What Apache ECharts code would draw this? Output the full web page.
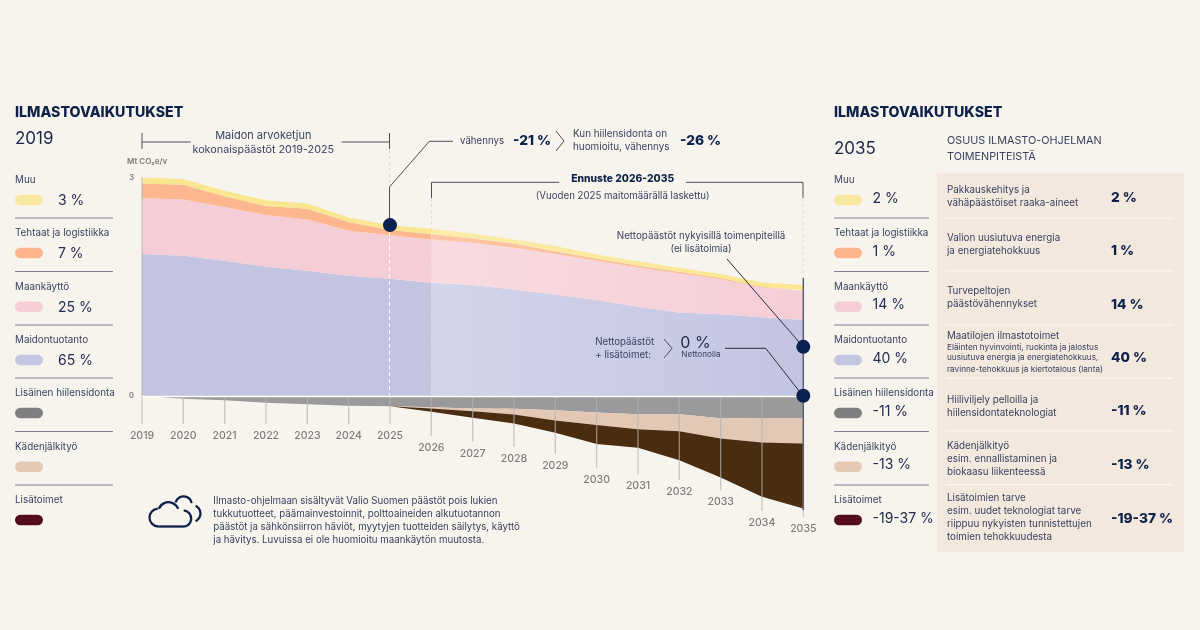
<!DOCTYPE html>
<html><head><meta charset="utf-8">
<style>html,body{margin:0;padding:0;background:#f7f4ee}#c{width:1200px;height:630px}</style>
<script src="https://cdn.jsdelivr.net/npm/echarts@6/dist/echarts.min.js"></script>
</head><body><div id="c"></div>
<script>
const years=['2019','2020','2021','2022','2023','2024','2025','2026','2027','2028','2029','2030','2031','2032','2033','2034','2035'];
const maidontuotanto=[1.947,1.924,1.855,1.773,1.718,1.649,1.608,1.553,1.521,1.462,1.393,1.315,1.223,1.146,1.119,1.081,1.040];
const maankaytto=[.770,.775,.738,.710,.706,.618,.600,.596,.581,.572,.554,.540,.541,.536,.481,.408,.403];
const tehtaat=[.202,.201,.151,.124,.146,.120,.069,.073,.060,.060,.041,.033,.027,.022,.018,.008,.010];
const muu=[.082,.078,.073,.082,.074,.065,.069,.073,.069,.055,.069,.055,.059,.055,.055,.060,.069];
const hiilensidonta=[0,-.041,-.060,-.096,-.115,-.137,-.142,-.156,-.174,-.179,-.197,-.229,-.252,-.252,-.307,-.311,-.311];
const kadenjalki=[0,0,0,0,0,0,0,-.018,-.037,-.078,-.142,-.174,-.206,-.234,-.279,-.330,-.344];
const lisatoimet=[0,0,0,0,0,0,0,-.046,-.092,-.124,-.169,-.261,-.256,-.398,-.536,-.747,-.893];
const tickTop=[3,0,0,0,0,0,0,0,0,0,0,0,0,0,0,0,0];
const tickEnd=[-.389,-.389,-.389,-.389,-.389,-.389,-.389,-.554,-.632,-.705,-.801,-.993,-1.076,-1.158,-1.296,-1.584,-1.663];
const dots=[['2025',2.346],['2035',.673],['2035',0]];
const legendNames=['Muu','Tehtaat ja logistiikka','Maankäyttö','Maidontuotanto','Lisäinen hiilensidonta','Kädenjälkityö','Lisätoimet'];
const legendColors=['#f8e79e','#ffb48e','#f6cdd6','#c5c6e2','#7f7f7f','#e3c8b3','#530c1e'];
const values2019=['3 %','7 %','25 %','65 %','','',''];
const values2035=['2 %','1 %','14 %','40 %','-11 %','-13 %','-19-37 %'];

const NAVY='#0d2149', INK='#3a4260';
const FONT='Inter';
const g=[];
function T(x,y,text,size,o){o=o||{};g.push({type:'text',z:100,x:x,y:y,style:{text:text,font:(o.w||400)+' '+size+'px '+FONT,fill:o.c||INK,textAlign:o.a||'left',textVerticalAlign:'middle'}});}
function L(pts,o){o=o||{};g.push({type:'polyline',z:o.z||100,shape:{points:pts},style:{stroke:o.c||'#4a4e60',lineWidth:o.lw||1,fill:null,lineDash:o.dash||null}});}
function R(x,y,w,h,c,r){g.push({type:'rect',z:r===undefined?1:100,shape:{x:x,y:y,width:w,height:h,r:r||0},style:{fill:c}});}
function A(cx,cy,r,a0,a1){g.push({type:'arc',z:100,shape:{cx:cx,cy:cy,r:r,startAngle:a0*Math.PI/180,endAngle:a1*Math.PI/180,clockwise:true},style:{fill:null,stroke:NAVY,lineWidth:2.3}});}

R(937,173.3,247,379,'#f2e8de');

const rowLabelY=[180.5,233.5,287,340.5,393.5,447,500.5];
const rowSwatchY=[200,253,306.7,360,413,466.7,520];
const rowSepY=[218,271.5,325,378,431.5,485];
function legendCol(x,vals,vx,sepW,dv){
  legendNames.forEach((n,i)=>{
    T(x,rowLabelY[i],n,9.85);
    R(x,rowSwatchY[i]-5.3,28,10.6,legendColors[i],5.3);
    if(vals[i])T(vx,rowSwatchY[i]+dv,vals[i],14,{c:'#232c50'});
    if(i<6)L([[x,rowSepY[i]],[x+sepW,rowSepY[i]]],{c:'#7d8296',lw:1});
  });
}
T(15,112.5,'ILMASTOVAIKUTUKSET',14.2,{w:800,c:NAVY});
T(15,138.5,'2019',17,{c:'#1d2748'});
legendCol(15,values2019,58,98,1);
T(834,112.5,'ILMASTOVAIKUTUKSET',14.2,{w:800,c:NAVY});
T(834,148.5,'2035',17,{c:'#1d2748'});
legendCol(834,values2035,872.5,95,-1.5);

T(947,141,'OSUUS ILMASTO-OHJELMAN',10.8);
T(947,156.3,'TOIMENPITEISTÄ',10.8);
[218,271,325,378.3,431,484.7].forEach(y=>L([[946,y],[1173,y]],{c:'#fbf8f3',lw:1.2}));
const panelRows=[
 [['Pakkauskehitys ja',189.7],['vähäpäästöiset raaka-aineet',203],'2 %',197.7],
 [['Valion uusiutuva energia',237.7],['ja energiatehokkuus',250.7],'1 %',251],
 [['Turvepeltojen',290.7],['päästövähennykset',303.7],'14 %',304.7],
 [['Hiiliviljely pelloilla ja',400.3],['hiilensidontateknologiat',413.3],'-11 %',410.7],
 [['Kädenjälkityö',445.7],['esim. ennallistaminen ja',458.7],['biokaasu liikenteessä',471.7],'-13 %',464.7],
 [['Lisätoimien tarve',497.7],['esim. uudet teknologiat tarve',510.7],['riippuu nykyisten tunnistettujen',523.7],['toimien tehokkuudesta',536.7],'-19-37 %',518.7]
];
panelRows.forEach(r=>{
  const y=r[r.length-1],p=r[r.length-2];
  r.slice(0,-2).forEach(l=>T(947,l[1],l[0],9.8));
  T(1111,y,p,13.7,{w:800,c:NAVY});
});
T(947,335.7,'Maatilojen ilmastotoimet',9.8);
T(947,347.7,'Eläinten hyvinvointi, ruokinta ja jalostus',8.2);
T(947,357.7,'uusiutuva energia ja energiatehokkuus,',8.2);
T(947,370,'ravinne-tehokkuus ja kiertotalous (lanta)',8.2);
T(1111,357.7,'40 %',13.7,{w:800,c:NAVY});

T(127,162,'Mt CO₂e/v',8,{w:600,c:'#7a7a7a'});
T(263.3,135.3,'Maidon arvoketjun',11,{a:'center'});
T(263.3,149.3,'kokonaispäästöt 2019-2025',10.8,{a:'center'});
L([[142,133],[142,149]]);L([[142,142],[190.7,142]]);L([[341.7,142],[389.5,142]]);L([[389.5,133],[389.5,149]]);
L([[389.5,150],[389.5,187]],{c:'#e8d9c8',dash:[3,3],z:90});
L([[389.5,232],[389.5,395]],{c:'#ffffff',dash:[4,3],z:90});
L([[389.5,225],[389.5,187],[429.3,141.3],[453,141.3]]);
T(460,141,'vähennys',9.7);
T(513,141,'-21 %',13.7,{w:800,c:NAVY});
L([[556,131],[564,141],[556,151]]);
T(573,134,'Kun hiilensidonta on',9.9);
T(573,147,'huomioitu, vähennys',9.9);
T(680,141,'-26 %',13.7,{w:800,c:NAVY});
L([[431.5,198],[431.5,182.3],[559.3,182.3]]);L([[686,182.3],[803,182.3],[803,198]]);
L([[431.5,198],[431.5,395]],{c:'#e8d9c8',dash:[3,3],z:90});
L([[803,198],[803,278]],{c:'#e8d9c8',dash:[3,3],z:90});
L([[803.3,278],[803.3,510]],{c:'#5a5e72',lw:1.5});
T(622.7,178.7,'Ennuste 2026-2035',10.3,{w:800,c:NAVY,a:'center'});
T(622.7,195.7,'(Vuoden 2025 maitomäärällä laskettu)',9.7,{a:'center'});
T(701,236,'Nettopäästöt nykyisillä toimenpiteillä',9.8,{a:'center'});
T(701,249,'(ei lisätoimia)',9.8,{a:'center'});
L([[727,259],[803,346.7]],{c:'#2a2d3a'});
T(595.3,342,'Nettopäästöt',9.7);
T(595.3,355,'+ lisätoimet:',9.7);
L([[664,339],[672,348.5],[664,358]]);
T(680.3,343,'0 %',16,{c:'#232c50'});
T(681.3,355,'Nettonolla',8.2);
L([[725,348.3],[765.7,348.3],[803,396]],{c:'#2a2d3a'});

A(158.5,517.5,9,90,265);A(168.5,512.5,10.3,200,340);A(183,518.5,8.2,-85,90);
L([[158.5,526.5],[183,526.5]],{c:NAVY,lw:2.3});
A(183.5,504.5,8.2,195,350);A(192,513.5,8.5,-65,65);

['Ilmasto-ohjelmaan sisältyvät Valio Suomen päästöt pois lukien',
 'tukkutuotteet, päämainvestoinnit, polttoaineiden alkutuotannon',
 'päästöt ja sähkönsiirron häviöt, myytyjen tuotteiden säilytys, käyttö',
 'ja hävitys. Luvuissa ei ole huomioitu maankäytön muutosta.'].forEach((s,i)=>T(213.3,501+i*13,s,9.7));

function band(name,data,col,light,stack){
  const split=0.437;
  return {name:name,type:'line',stack:stack,data:data,symbol:'none',silent:true,lineStyle:{width:0},
    areaStyle:{opacity:1,color:light?{type:'linear',x:0,y:0,x2:1,y2:0,colorStops:[{offset:0,color:col},{offset:split,color:col},{offset:split,color:light},{offset:1,color:col}]}:col}};
}
const series=[
 band('Maidontuotanto',maidontuotanto,'#c3c4e1','#d3d5ea','pos'),
 band('Maankäyttö',maankaytto,'#f5cdd6','#f9dbe1','pos'),
 band('Tehtaat ja logistiikka',tehtaat,'#fdb78f','#fdc6a6','pos'),
 band('Muu',muu,'#f9e690','#fbeca8','pos'),
 band('Lisäinen hiilensidonta',hiilensidonta,'#9a9a9c',null,'neg'),
 band('Kädenjälkityö',kadenjalki,'#e3c9b5',null,'neg'),
 band('Lisätoimet',lisatoimet,'#4a2c10',null,'neg'),
 {type:'custom',silent:true,z:20,clip:false,data:years.map((y,i)=>[y,tickTop[i],tickEnd[i]]),
  renderItem:(p,api)=>{
    const a=api.coord([api.value(0),api.value(1)]),b=api.coord([api.value(0),api.value(2)]);
    return {type:'group',children:[
      {type:'line',shape:{x1:a[0],y1:a[1],x2:b[0],y2:b[1]},style:{stroke:'rgba(178,178,178,.7)',lineWidth:1.3}},
      {type:'text',x:b[0],y:b[1]+12,style:{text:years[p.dataIndex],font:'500 10.5px '+FONT,fill:'#7c7c7c',textAlign:'center',textVerticalAlign:'middle'}}
    ]};
  },
  markLine:{silent:true,symbol:'none',label:{show:false},lineStyle:{color:'#ffffff',width:1.3,type:'solid'},data:[{yAxis:0}],z:21,animation:false}},
 {type:'scatter',z:200,silent:true,data:dots,symbolSize:14,itemStyle:{color:'#0b2150',opacity:1}}
];
const chart=echarts.init(document.getElementById('c'),null,{renderer:'canvas'});
chart.setOption({
  animation:false,backgroundColor:'#f7f4ee',
  grid:{left:142,width:661.3,top:177.5,height:436.6},
  xAxis:{type:'category',data:years,boundaryGap:false,axisLine:{show:false},axisTick:{show:false},axisLabel:{show:false}},
  yAxis:{type:'value',min:-3,max:3,interval:3,splitLine:{show:false},axisLine:{show:false},axisTick:{show:false},
    axisLabel:{margin:8,fontFamily:FONT,fontSize:7.5,fontWeight:600,color:'#7a7a7a',formatter:v=>v<0?'':String(v)}},
  series:series,graphic:{elements:g}
});
</script></body></html>
